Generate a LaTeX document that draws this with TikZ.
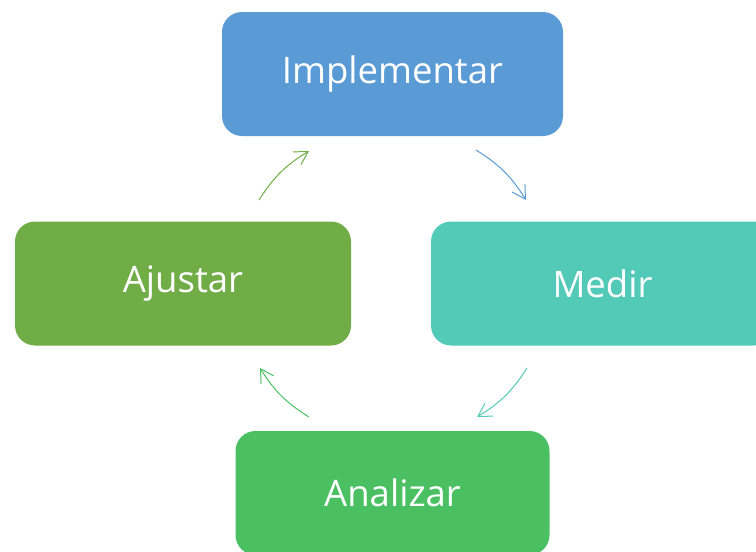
\documentclass[tikz,border=0pt]{standalone}
\usepackage{fontspec}
\setmainfont{Open Sans}
\usepackage{xcolor}
\usetikzlibrary{arrows.meta}

\definecolor{implcol}{HTML}{5B9BD5}
\definecolor{medircol}{HTML}{53CAB7}
\definecolor{ajustcol}{HTML}{70AD47}
\definecolor{analicol}{HTML}{4AC063}

\begin{document}
\begin{tikzpicture}[
            x=1pt, y=-1pt,
            every node/.style={
            inner sep=0pt, text centered, text=white, font=\fontsize{36.5}{44}\selectfont}
        ]
        \tikzstyle {step_box} = [rectangle, rounded corners=20pt, draw=none, minimum height=124pt]
        \tikzstyle {cyc_arrow} = [line width=1pt, -{Straight Barb[length=13pt, width=15pt]}]

        \useasboundingbox (0,0) rectangle (756,552);

        \node [step_box, fill=implcol, minimum width=341pt] (impl) at (392.5,74) {Implementar};
        \node [step_box, fill=medircol, minimum width=343pt] (medir) at (602.5,283.5) {Medir};
        \node [step_box, fill=ajustcol, minimum width=336pt] (ajustar) at (183,283.5) {Ajustar};
        \node [step_box, fill=analicol, minimum width=314pt] (analizar) at (392.5,493) {Analizar};

        \coordinate (a1) at (476,150);
        \coordinate (b1) at (526,200);
        \coordinate (a2) at (527,368);
        \coordinate (b2) at (477,417);
        \coordinate (a3) at (309,417);
        \coordinate (b3) at (260,368);
        \coordinate (a4) at (259,200);
        \coordinate (b4) at (309,151);

        \draw [cyc_arrow, draw=implcol] (a1) to[bend left=13] (b1);
        \draw [cyc_arrow, draw=medircol] (a2) to[bend left=13] (b2);
        \draw [cyc_arrow, draw=analicol] (a3) to[bend left=13] (b3);
        \draw [cyc_arrow, draw=ajustcol] (a4) to[bend left=13] (b4);

        \end{tikzpicture}
\end{document}
